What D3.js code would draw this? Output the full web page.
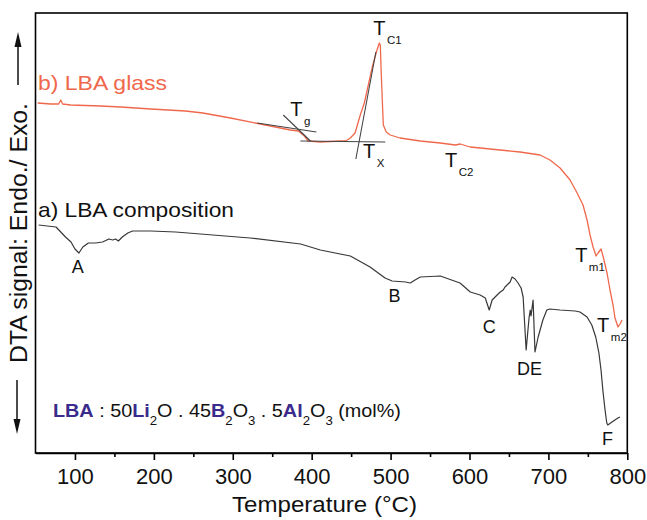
<!DOCTYPE html>
<html>
<head>
<meta charset="utf-8">
<script src="https://cdn.jsdelivr.net/npm/d3@7"></script>
<style>
  html, body { margin: 0; padding: 0; background: #fff; }
  svg { display: block; font-family: "Liberation Sans", Arial, Helvetica, sans-serif; }
</style>
</head>
<body>
<svg id="chart" width="647" height="520"></svg>
<script>
// ---- data (temperature in °C, DTA signal in arbitrary units) ----
const compTemp = [54, 76, 82, 88, 95, 100, 105, 110, 117, 126, 135, 143, 148, 151.5, 155, 160, 167, 173, 196, 227.5, 259, 322, 386, 411, 449, 474, 493, 502, 519, 525, 531, 537.6, 563, 588, 601, 613.5, 620, 625, 628.7, 635, 639, 642.7, 645, 651.5, 654, 657.8, 661.6, 665.4, 668, 671.8, 675.6, 677, 678, 680.6, 683, 687, 689.5, 693, 698, 702, 714.8, 733.8, 740, 749, 755, 760, 764, 766.7, 769, 771.8, 774, 775.3, 780.6, 788, 790.8];
const compSignal = [22.8, 22.6, 22.1, 21.6, 21.1, 20.4, 20.0, 20.6, 21.0, 21.0, 21.1, 21.4, 21.3, 21.4, 21.2, 21.6, 22.0, 22.2, 22.2, 22.1, 21.9, 21.5, 20.9, 20.3, 19.7, 18.6, 17.5, 17.2, 17.1, 17.0, 17.3, 17.6, 17.7, 17.0, 16.1, 15.8, 15.5, 14.3, 15.3, 15.8, 16.1, 16.3, 16.6, 17.1, 17.6, 17.4, 17.0, 16.5, 15.6, 10.3, 13.6, 14.3, 13.7, 15.3, 10.1, 11.6, 12.3, 13.3, 14.3, 14.4, 14.3, 14.2, 14.1, 13.6, 12.8, 11.6, 10.0, 8.3, 6.3, 4.3, 3.0, 2.8, 3.1, 3.5, 3.6];

const glassTemp = [52.8, 69, 79.4, 82, 84.4, 94.6, 132.5, 158, 196, 240, 262, 297, 335, 372.9, 383, 390.7, 395.8, 411, 436, 443, 449, 455, 461.6, 466.7, 471.8, 476.8, 482, 485.7, 487, 488, 489.5, 490.8, 494.5, 499.6, 512, 537.6, 563, 582, 588.2, 600.9, 639, 664, 689.5, 702, 714.8, 727.5, 736.4, 743.9, 749, 752.8, 756.6, 760.4, 763, 766.7, 769.2, 774.3, 778.1, 781.9, 784.4, 788.2, 790.8, 793.3];
const glassSignal = [35.0, 34.9, 34.9, 35.3, 34.9, 34.8, 34.7, 34.6, 34.4, 34.2, 34.0, 33.5, 32.9, 32.3, 32.2, 31.7, 31.2, 31.1, 31.2, 31.2, 31.5, 32.0, 33.8, 35.0, 36.8, 38.6, 40.1, 41.0, 40.8, 38.3, 35.3, 32.8, 32.1, 31.8, 31.5, 31.2, 31.0, 30.8, 30.9, 30.6, 30.3, 30.1, 29.8, 29.3, 28.5, 27.3, 26.0, 24.8, 23.3, 21.8, 20.6, 19.7, 20.0, 20.4, 19.7, 18.0, 16.3, 14.8, 13.5, 12.6, 12.9, 13.3];

// construction (tangent) lines: [T1, v1, T2, v2]
const tangentLines = [
  [331, 33.0, 406, 32.1],
  [364, 33.8, 398.4, 31.2],
  [385.7, 31.2, 493.3, 31.1],
  [456, 29.4, 481.4, 40.1]
];

// peak letters on the composition curve
const peakNames = ["A", "B", "C", "DE", "F"];
const peakTemp = [103.5, 505, 625, 676, 775];
const peakSignal = [18.0, 15.1, 12.0, 7.8, 0.8];

// characteristic temperatures on the glass curve
const charMain = ["T", "T", "T", "T", "T", "T"];
const charSub = ["g", "C1", "X", "C2", "m1", "m2"];
const charTemp = [373, 478, 465, 569, 733.9, 761.7];
const charSignal = [33.7, 41.8, 29.5, 28.6, 19.1, 12.1];

const majorTicks = [100, 200, 300, 400, 500, 600, 700, 800];
const minorTicks = [150, 250, 350, 450, 550, 650, 750];

// ---- layout ----
const svg = d3.select("#chart");
const x = d3.scaleLinear().domain([50, 800]).range([35.5, 627.3]);
const y = d3.scaleLinear().domain([0, 44]).range([453, 13]);

const orange = "#f0684c";
const dark = "#383838";

// frame
svg.append("rect")
  .attr("x", x(50)).attr("y", y(44))
  .attr("width", x(800) - x(50)).attr("height", y(0) - y(44))
  .attr("fill", "none").attr("stroke", "#000").attr("stroke-width", 1.6);

// x axis
const gx = svg.append("g").attr("transform", `translate(0,${y(0)})`)
  .call(d3.axisBottom(x).tickValues(majorTicks).tickSize(7).tickSizeOuter(0).tickPadding(8).tickFormat(d3.format("d")));
gx.select(".domain").attr("stroke-width", 1.6);
gx.selectAll(".tick line").attr("stroke-width", 1.6);
gx.selectAll(".tick text").attr("font-size", 22).attr("font-family", null).attr("fill", "#111");

const gm = svg.append("g").attr("transform", `translate(0,${y(0)})`)
  .call(d3.axisBottom(x).tickValues(minorTicks).tickSize(4).tickSizeOuter(0).tickFormat(""));
gm.select(".domain").remove();
gm.selectAll(".tick line").attr("stroke-width", 1.6);

// axis titles
svg.append("text").attr("x", 232).attr("y", 512)
  .attr("font-size", 22).attr("fill", "#111")
  .attr("textLength", 185).attr("lengthAdjust", "spacingAndGlyphs").text("Temperature (°C)");
svg.append("text").attr("transform", "translate(27,363) rotate(-90)")
  .attr("font-size", 23).attr("fill", "#111")
  .attr("textLength", 260).attr("lengthAdjust", "spacingAndGlyphs").text("DTA signal: Endo./ Exo.");

// arrows
const arrowG = svg.append("g").attr("stroke", "#111").attr("fill", "#111");
arrowG.append("line").attr("x1", 18).attr("x2", 18).attr("y1", 85).attr("y2", 44).attr("stroke-width", 1.5);
arrowG.append("path").attr("d", "M18,32 L14.5,47 L21.5,47 Z").attr("stroke", "none");
arrowG.append("line").attr("x1", 17).attr("x2", 17).attr("y1", 380).attr("y2", 422).attr("stroke-width", 1.5);
arrowG.append("path").attr("d", "M17,434 L13.5,419 L20.5,419 Z").attr("stroke", "none");

// curves
const line = d3.line().x(d => x(d[0])).y(d => y(d[1])).curve(d3.curveLinear);
svg.append("path").datum(compTemp.map((t, i) => [t, compSignal[i]]))
  .attr("d", line).attr("fill", "none").attr("stroke", dark).attr("stroke-width", 1.2).attr("stroke-linejoin", "round");
svg.append("path").datum(glassTemp.map((t, i) => [t, glassSignal[i]]))
  .attr("d", line).attr("fill", "none").attr("stroke", orange).attr("stroke-width", 1.3).attr("stroke-linejoin", "round");

// tangents
svg.append("g").selectAll("line").data(tangentLines).join("line")
  .attr("x1", d => x(d[0])).attr("y1", d => y(d[1]))
  .attr("x2", d => x(d[2])).attr("y2", d => y(d[3]))
  .attr("stroke", "#444").attr("stroke-width", 1.1);

// series labels
svg.append("text").attr("x", 38).attr("y", 90).attr("font-size", 21).attr("fill", orange)
  .attr("textLength", 129).attr("lengthAdjust", "spacingAndGlyphs").text("b) LBA glass");
svg.append("text").attr("x", 38).attr("y", 217).attr("font-size", 21).attr("fill", "#111")
  .attr("textLength", 196).attr("lengthAdjust", "spacingAndGlyphs").text("a) LBA composition");

// peak letters
svg.append("g").selectAll("text").data(peakNames).join("text")
  .attr("x", (d, i) => x(peakTemp[i])).attr("y", (d, i) => y(peakSignal[i]))
  .attr("text-anchor", "middle").attr("font-size", 18).attr("fill", "#111").text(d => d);

// characteristic temperature labels
const ct = svg.append("g").selectAll("text").data(charMain).join("text")
  .attr("x", (d, i) => x(charTemp[i])).attr("y", (d, i) => y(charSignal[i]))
  .attr("font-size", 20).attr("fill", "#111");
ct.append("tspan").text(d => d);
ct.append("tspan").attr("dy", 9).attr("dx", 1.5).attr("font-size", 11.5).text((d, i) => charSub[i]);

// composition formula
const parts = [
  ["LBA", "b"], [" : 50", "r"], ["Li", "b"], ["2", "s"], ["O . 45", "r"],
  ["B", "b"], ["2", "s"], ["O", "r"], ["3", "s"], [" . 5", "r"],
  ["Al", "b"], ["2", "s"], ["O", "r"], ["3", "s"], [" (mol%)", "r"]
];
const fg = svg.append("g").attr("transform", "translate(53,417) scale(1.1,1)");
const ft = fg.append("text").attr("x", 0).attr("y", 0).attr("font-size", 18).attr("fill", "#111");
let prevSub = false;
parts.forEach(p => {
  const ts = ft.append("tspan").text(p[0]);
  const isSub = p[1] === "s";
  if (isSub && !prevSub) ts.attr("dy", 8);
  if (!isSub && prevSub) ts.attr("dy", -8);
  if (isSub) ts.attr("font-size", 12);
  if (p[1] === "b") ts.attr("font-weight", "bold").attr("fill", "#3b2b8c");
  prevSub = isSub;
});
</script>
</body>
</html>
